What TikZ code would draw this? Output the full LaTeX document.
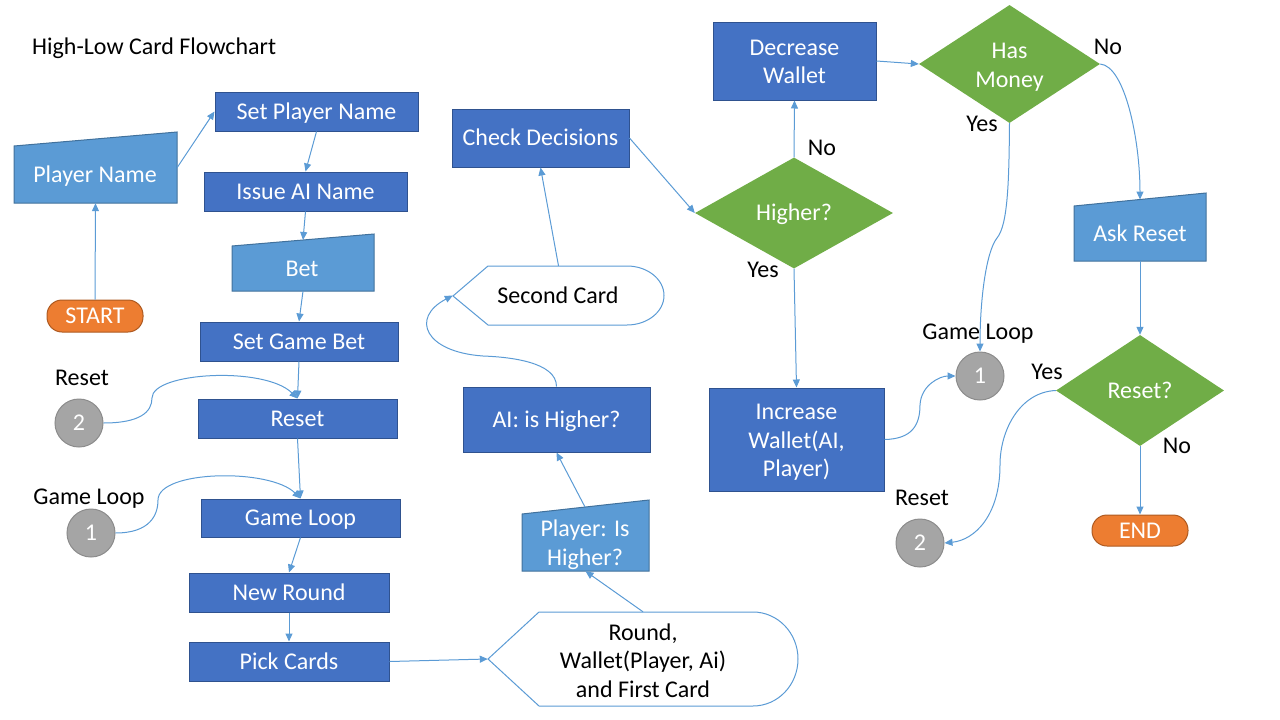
\documentclass[tikz,border=0pt]{standalone}
\usepackage{fontspec}
\setmainfont{Carlito}
\usetikzlibrary{shapes.geometric,arrows.meta,calc}
\definecolor{procfill}{HTML}{4472C4}
\definecolor{procline}{HTML}{2F528F}
\definecolor{inpfill}{HTML}{5B9BD5}
\definecolor{inpline}{HTML}{41719C}
\definecolor{decfill}{HTML}{70AD47}
\definecolor{termfill}{HTML}{ED7D31}
\definecolor{termline}{HTML}{AE5A21}
\definecolor{conFill}{HTML}{A5A5A5}
\definecolor{conLine}{HTML}{8C8C8C}
\definecolor{linkc}{HTML}{5B9BD5}
\begin{document}
\begin{tikzpicture}[x=1pt,y=-1pt,
  font=\fontsize{24}{28.5}\selectfont,
  one/.style={text height=15.5pt, text depth=0pt},
  proc/.style={rectangle, fill=procfill, draw=procline, line width=1pt, text=white, inner sep=0pt, align=center},
  inpshape/.style={fill=inpfill, draw=inpline, line width=1pt},
  dispshape/.style={fill=white, draw=linkc, line width=1pt},
  ghost/.style={rectangle, draw=none, fill=none, inner sep=0pt},
  wtext/.style={text=white, inner sep=0pt, align=center},
  btext/.style={text=black, inner sep=0pt, align=center},
  dec/.style={diamond, aspect=1.6, fill=decfill, draw=none, text=white, inner sep=0pt, align=center},
  term/.style={rectangle, rounded corners=15pt, fill=termfill, draw=termline, line width=1pt, text=white, inner sep=0pt},
  conn/.style={circle, minimum size=48pt, inner sep=0pt, fill=conFill, draw=conLine, line width=1pt, text=white},
  lab/.style={text=black, inner sep=0pt, one},
  arr/.style={draw=linkc, line width=1pt, -{Triangle[length=8pt,width=7pt]}}
]
\useasboundingbox (0,0) rectangle (1280,720);

% title
\node[lab, anchor=west] (title) at (32,47) {High-Low Card Flowchart};

% left column
\node[term, one, minimum width=96pt, minimum height=32pt] (start) at (95,316) {START};

\filldraw[inpshape] (14,146) -- (177,132) -- (177,203) -- (14,203) -- cycle;
\node[ghost, minimum width=163pt, minimum height=71pt] (pname) at (95.5,167.5) {};
\node[wtext, one] (pnameT) at (95,175) {Player Name};

\node[proc, one, minimum width=203pt, minimum height=39pt] (spn) at (316.5,111.5) {Set Player Name};
\node[proc, one, minimum width=203pt, minimum height=39pt] (ian) at (305.5,191.5) {Issue AI Name};

\filldraw[inpshape] (232,246) -- (374,234) -- (374,291) -- (232,291) -- cycle;
\node[ghost, minimum width=142pt, minimum height=57pt] (bet) at (303,262.5) {};
\node[wtext, one] (betT) at (302,269) {Bet};

\node[proc, one, minimum width=198pt, minimum height=39pt] (sgb) at (299,341.5) {Set Game Bet};
\node[proc, one, minimum width=199pt, minimum height=39pt] (rst) at (297.5,418.5) {Reset};
\node[proc, one, minimum width=199pt, minimum height=38pt] (gl) at (300.5,518) {Game Loop};
\node[proc, one, minimum width=200pt, minimum height=39pt] (nr) at (289,592.5) {New Round};
\node[proc, one, minimum width=200pt, minimum height=39pt] (pc) at (289,661.5) {Pick Cards};

\node[conn, one] (c2) at (79,423) {2};
\node[conn, one] (c1) at (91,533) {1};
\node[lab] (lblReset1) at (82,378) {Reset};
\node[lab] (lblGL1) at (89,497) {Game Loop};

% middle column
\filldraw[dispshape] (488,659) -- (539,612) -- (753,612) .. controls (777.8,612) and (798,633) .. (798,659) .. controls (798,685) and (777.8,706) .. (753,706) -- (539,706) -- cycle;
\node[ghost, minimum width=310pt, minimum height=94pt] (round) at (643,659) {};
\node[btext] (roundT) at (643,660.5) {Round,\\Wallet(Player, Ai)\\and First Card};

\filldraw[inpshape] (522,514) -- (649,500) -- (649,571) -- (522,571) -- cycle;
\node[ghost, minimum width=127pt, minimum height=71pt] (player) at (585.5,535.5) {};
\node[wtext] (playerT) at (585,544.5) {Player: Is\\Higher?};

\node[proc, one, minimum width=187pt, minimum height=65pt] (ai) at (556.5,419.5) {AI: is Higher?};

\filldraw[dispshape] (453,296) -- (488,266) -- (627,266) .. controls (647.4,266) and (664,279.2) .. (664,295.5) .. controls (664,311.8) and (647.4,325) .. (627,325) -- (488,325) -- cycle;
\node[ghost, minimum width=211pt, minimum height=59pt] (sc) at (558.5,295.5) {};
\node[btext, one] (scT) at (558,296) {Second Card};

\node[proc, one, minimum width=177pt, minimum height=58pt] (cd) at (540.5,138) {Check Decisions};

% right part
\node[dec, one, minimum width=198pt, minimum height=111pt] (hi) at (794,213) {Higher?};
\node[proc, minimum width=163pt, minimum height=78pt] (dw) at (794.5,61) {};
\node[wtext] (dwT) at (794.5,62) {Decrease\\Wallet};
\node[proc, minimum width=175pt, minimum height=103pt] (inc) at (796.5,439.5) {};
\node[wtext] (incT) at (796.5,442.5) {Increase\\Wallet(AI,\\Player)};
\node[dec, minimum width=181pt, minimum height=118pt] (hm) at (1009.5,64) {};
\node[wtext] (hmT) at (1009.5,67) {Has\\Money};

\filldraw[inpshape] (1074,206) -- (1206,193) -- (1206,261) -- (1074,261) -- cycle;
\node[ghost, minimum width=132pt, minimum height=68pt] (ar) at (1140,227) {};
\node[wtext, one] (arT) at (1140,234) {Ask Reset};

\node[dec, one, minimum width=168pt, minimum height=111pt] (rq) at (1140,390.5) {Reset?};
\node[term, one, minimum width=96pt, minimum height=31pt] (endn) at (1140,530.5) {END};

\node[conn, one] (c1r) at (980,376) {1};
\node[conn, one] (c2r) at (920,543) {2};

\node[lab] (lblNo1) at (822,148) {No};
\node[lab] (lblYes1) at (763,270) {Yes};
\node[lab] (lblNo2) at (1108,47) {No};
\node[lab] (lblYes2) at (982,124) {Yes};
\node[lab] (lblGL2) at (978,332) {Game Loop};
\node[lab] (lblYes3) at (1047,372) {Yes};
\node[lab] (lblNo3) at (1177,446) {No};
\node[lab] (lblReset2) at (922,498) {Reset};

% connectors
\coordinate (betin) at (303,240);
\coordinate (plout) at (585,507);
\coordinate (arin) at (1140,199.5);

\draw[arr] (start.north) -- (pname.south);
\draw[arr] (pname.east) -- (spn.west);
\draw[arr] (spn.south) -- (ian.north);
\draw[arr] (ian.south) -- (betin);
\draw[arr] (bet.south) -- (sgb.north);
\draw[arr] (sgb.south) -- (rst.north);
\draw[arr] (rst.south) -- (gl.north);
\draw[arr] (gl.south) -- (nr.north);
\draw[arr] (nr.south) -- (pc.north);
\draw[arr] (pc.east) -- (round.west);
\draw[arr] (round.north) -- (player.south);
\draw[arr] (plout) -- (ai.south);
\draw[arr] (ai.north) .. controls (556.5,362) and (510,357) .. (483,356) .. controls (425,352) and (410,318) .. (sc.west);
\draw[arr] (sc.north) -- (cd.south);
\draw[arr] (cd.east) -- (hi.west);
\draw[arr] (hi.north) -- (dw.south);
\draw[arr] (hi.south) -- (inc.north);
\draw[arr] (dw.east) -- (hm.west);
\draw[arr] (hm.south) .. controls (1009,180) and (1008,225) .. (997,238) .. controls (986,252) and (980,300) .. (c1r.north);
\draw[arr] (hm.east) .. controls (1125,66) and (1140,140) .. (arin);
\draw[arr] (ar.south) -- (rq.north);
\draw[arr] (rq.south) -- (endn.north);
\draw[arr] (rq.west) .. controls (1020,392) and (1000,430) .. (1000,465) .. controls (1000,515) and (975,540) .. (c2r.east);
\draw[arr] (inc.east) .. controls (912,439) and (920,425) .. (920,405) .. controls (921,385) and (940,376) .. (c1r.west);
\draw[arr] (c2.east) .. controls (140,423) and (152,412) .. (152,398) .. controls (152,372) and (265,366) .. (rst.north);
\draw[arr] (c1.east) .. controls (150,533) and (158,515) .. (158,500) .. controls (158,470) and (270,468) .. (gl.north);
\end{tikzpicture}
\end{document}
